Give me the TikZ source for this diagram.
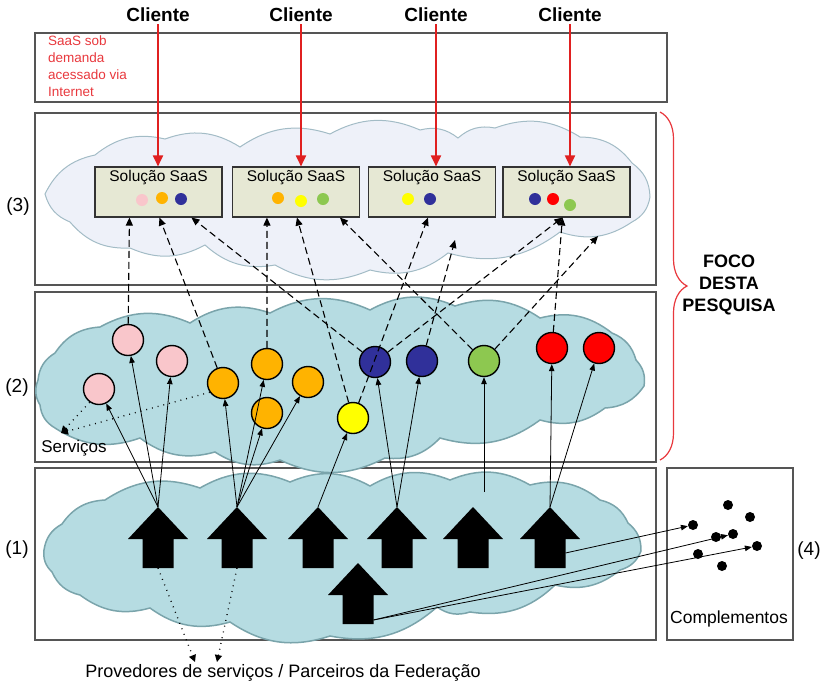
\documentclass[tikz,border=0pt]{standalone}
\usepackage{fontspec}
\setmainfont{Liberation Sans}
\usetikzlibrary{arrows.meta,decorations.pathreplacing}

\definecolor{framegray}{HTML}{555555}
\definecolor{lavfill}{HTML}{EEF1F9}
\definecolor{lavedge}{HTML}{A3BCC6}
\definecolor{tealfill}{HTML}{B6DCE2}
\definecolor{tealedge}{HTML}{7AA4AB}
\definecolor{solfill}{HTML}{E6E8D4}
\definecolor{spink}{HTML}{F9C6CB}
\definecolor{sorange}{HTML}{FFB300}
\definecolor{syellow}{HTML}{FFFF00}
\definecolor{sblue}{HTML}{30309A}
\definecolor{sgreen}{HTML}{8DC850}
\definecolor{sred}{HTML}{FF0000}
\definecolor{clientred}{HTML}{E02020}
\definecolor{notered}{HTML}{E8383D}

\begin{document}
\begin{tikzpicture}[x=1pt,y=-1pt,
  layerbox/.style={draw=framegray, line width=1.3pt},
  lobe/.style={bend left=26},
  solbox/.style={rectangle, draw=black!80, fill=solfill, line width=1.1pt,
    minimum width=127pt, minimum height=50pt, inner sep=0pt},
  soltext/.style={font=\fontsize{15.5}{18}\selectfont, inner sep=0pt},
  minidot/.style={circle, minimum size=12pt, inner sep=0pt},
  svc/.style={circle, draw=black, line width=1.4pt, minimum size=31pt, inner sep=0pt},
  compdot/.style={circle, fill=black, minimum size=10pt, inner sep=0pt},
  clienttext/.style={font=\fontsize{19}{22}\selectfont\bfseries, inner sep=2pt},
  clientarrow/.style={draw=clientred, line width=1.8pt,
    -{Triangle[length=11pt,width=10pt]}},
  feed/.style={draw=black, line width=1.1pt, dash pattern=on 7pt off 4pt,
    -{Triangle[length=8pt,width=7pt]}},
  supply/.style={draw=black, line width=0.8pt, -{Triangle[length=7pt,width=5.5pt]}},
  hint/.style={draw=black, line width=1.3pt, dash pattern=on 0.9pt off 5pt,
    -{Triangle[length=7pt,width=7pt]}},
  layerlabel/.style={font=\fontsize{19}{22}\selectfont, inner sep=0pt},
  provider/.pic={
    \fill[black] (0,0) -- (30,32) -- (15.5,32) -- (15.5,61) -- (-15.5,61)
      -- (-15.5,32) -- (-30,32) -- cycle;
    \coordinate (-tip) at (0,0);
    \coordinate (-foot) at (0,61);
    \coordinate (-side) at (15.5,46);
    \coordinate (-low) at (15.5,57);
  }]
\useasboundingbox (0,0) rectangle (823,683);

% ---- frames ----
\draw[layerbox] (35,33) rectangle (667,102);
\draw[layerbox] (35,113) rectangle (656,285);
\draw[layerbox] (35,292) rectangle (656,462);
\draw[layerbox] (35,468) rectangle (656,640);
\draw[layerbox] (667,468) rectangle (793,640);

% ---- clouds ----
\filldraw[fill=lavfill, draw=lavedge, line width=1pt]
  (45,194) to[lobe] (95,155) to[lobe] (165,139) to[lobe] (240,147)
  to[lobe] (330,134) to[lobe] (420,130) to[lobe] (458,138) to[lobe] (495,128)
  to[lobe] (580,137) to[lobe] (632,163) to[lobe] (650,197) to[lobe] (632,222)
  to[lobe] (560,232) to[lobe] (448,253) to[lobe] (370,270) to[lobe] (275,265)
  to[lobe] (205,245) to[lobe] (130,248) to[lobe] (70,222) to[lobe] (45,194) -- cycle;

\filldraw[fill=tealfill, draw=tealedge, line width=1.5pt]
  (38,380) to[lobe] (55,353) to[lobe] (100,327) to[lobe] (190,323)
  to[lobe] (270,313) to[lobe] (370,310) to[lobe] (455,306) to[lobe] (540,318)
  to[lobe] (612,333) to[lobe] (636,360) to[lobe] (644,386) to[lobe] (605,408)
  to[lobe] (540,420) to[lobe] (440,438) to[lobe] (385,458) to[lobe] (280,460)
  to[lobe] (215,452) to[lobe] (140,438) to[lobe] (55,428) to[lobe] (40,405)
  to[lobe] (38,380) -- cycle;

\filldraw[fill=tealfill, draw=tealedge, line width=1.5pt]
  (44,550) to[lobe] (62,524) to[lobe] (105,500) to[lobe] (200,488)
  to[lobe] (290,482) to[lobe] (370,486) to[lobe] (450,480) to[lobe] (530,485)
  to[lobe] (600,500) to[lobe] (628,523) to[lobe] (641,551) to[lobe] (620,570)
  to[lobe] (555,585) to[lobe] (470,612) to[lobe] (437,607) to[lobe] (330,636)
  to[lobe] (230,622) to[lobe] (150,608) to[lobe] (80,595) to[lobe] (52,572)
  to[lobe] (44,550) -- cycle;

% ---- texts ----
\node[anchor=north west, align=left, inner sep=0pt, text=notered,
  font=\fontsize{13.5}{16.8}\selectfont] (saasnote) at (48,36)
  {SaaS sob\\demanda\\acessado via\\Internet};
\node[clienttext] (c1) at (158,15) {Cliente};
\node[clienttext] (c2) at (301,15) {Cliente};
\node[clienttext] (c3) at (436,15) {Cliente};
\node[clienttext] (c4) at (570,15) {Cliente};
\node[layerlabel] (lab3) at (18,207) {(3)};
\node[layerlabel] (lab2) at (17,388) {(2)};
\node[layerlabel] (lab1) at (17,550) {(1)};
\node[layerlabel] (lab4) at (809,551) {(4)};
\node[font=\fontsize{18}{22}\selectfont\bfseries, align=center, inner sep=0pt]
  (focus) at (729,285) {FOCO\\DESTA\\PESQUISA};
\node[font=\fontsize{17}{20}\selectfont, inner sep=0pt] (servicos) at (74,448) {Serviços};
\node[font=\fontsize{17.5}{20}\selectfont, inner sep=0pt] (compl) at (729,619) {Complementos};
\node[font=\fontsize{18}{21}\selectfont, inner sep=0pt] (prov) at (283,673)
  {Provedores de serviços / Parceiros da Federação};

% ---- brace ----
\draw[notered, line width=1.2pt, decorate, decoration={brace, amplitude=27pt}]
  (660,112) -- (660,460);

% ---- SaaS solutions ----
\node[solbox] (s1) at (158.5,192) {};
\node[solbox] (s2) at (296,192) {};
\node[solbox] (s3) at (432,192) {};
\node[solbox] (s4) at (566.5,192) {};
\foreach \s in {s1,s2,s3,s4}
  \node[soltext] (\s t) at ([yshift=-11pt]\s.north) {Solução SaaS};

\node[minidot, fill=spink] (d11) at (142,200) {};
\node[minidot, fill=sorange] (d12) at (162,198) {};
\node[minidot, fill=sblue] (d13) at (181,199) {};
\node[minidot, fill=sorange] (d21) at (278,198) {};
\node[minidot, fill=syellow] (d22) at (301,201) {};
\node[minidot, fill=sgreen] (d23) at (323,199) {};
\node[minidot, fill=syellow] (d31) at (408,199) {};
\node[minidot, fill=sblue] (d32) at (430,199) {};
\node[minidot, fill=sblue] (d41) at (535,199) {};
\node[minidot, fill=sred] (d42) at (553,199) {};
\node[minidot, fill=sgreen] (d43) at (570,205) {};

% ---- clients ----
\draw[clientarrow] (c1) -- (c1 |- s1.north);
\draw[clientarrow] (c2) -- (c2 |- s2.north);
\draw[clientarrow] (c3) -- (c3 |- s3.north);
\draw[clientarrow] (c4) -- (c4 |- s4.north);

% ---- providers ----
\pic (p1) at (158,507) {provider};
\pic (p2) at (237,507) {provider};
\pic (p3) at (318,507) {provider};
\pic (p4) at (397,507) {provider};
\pic (p5) at (473,507) {provider};
\pic (p6) at (550,507) {provider};
\pic (p7) at (358,563) {provider};

% ---- services ----
\node[svc, fill=spink] (pk1) at (128,340) {};
\node[svc, fill=spink] (pk2) at (172,361) {};
\node[svc, fill=spink] (pk3) at (99,389) {};
\node[svc, fill=sorange] (or1) at (223,383) {};
\node[svc, fill=sorange] (or2) at (267,364) {};
\node[svc, fill=sorange] (or3) at (308,382) {};
\node[svc, fill=sorange] (or4) at (267,413) {};
\node[svc, fill=syellow] (ye1) at (353,418) {};
\node[svc, fill=sblue] (bl1) at (375,362) {};
\node[svc, fill=sblue] (bl2) at (422,361) {};
\node[svc, fill=sgreen] (gr1) at (484,361) {};
\node[svc, fill=sred] (rd1) at (552,348) {};
\node[svc, fill=sred] (rd2) at (599,348) {};

% ---- services feeding the SaaS solutions ----
\coordinate (free1) at (455,240);
\coordinate (free2) at (598,236);
\draw[feed] (pk1) -- ([xshift=35pt]s1.south west);
\draw[feed] (or1) -- ([xshift=65pt]s1.south west);
\draw[feed] (bl1) -- ([xshift=97pt]s1.south west);
\draw[feed] (or2) -- ([xshift=35pt]s2.south west);
\draw[feed] (ye1) -- ([xshift=65pt]s2.south west);
\draw[feed] (gr1) -- ([xshift=108pt]s2.south west);
\draw[feed] (ye1) -- ([xshift=60pt]s3.south west);
\draw[feed] (bl2) -- (free1);
\draw[feed] (bl1) -- ([xshift=60pt]s4.south west);
\draw[feed] (rd1) -- ([xshift=60pt]s4.south west);
\draw[feed] (gr1) -- (free2);

% ---- providers supplying services ----
\coordinate (p5up) at (484,492);
\draw[supply] (p1-tip) -- (pk1);
\draw[supply] (p1-tip) -- (pk2);
\draw[supply] (p1-tip) -- (pk3);
\draw[supply] (p2-tip) -- (or1);
\draw[supply] (p2-tip) -- (or2);
\draw[supply] (p2-tip) -- (or3);
\draw[supply] (p2-tip) -- (or4);
\draw[supply] (p3-tip) -- (ye1);
\draw[supply] (p4-tip) -- (bl1);
\draw[supply] (p4-tip) -- (bl2);
\draw[supply] (p5up) -- (gr1);
\draw[supply] (p6-tip) -- (rd1);
\draw[supply] (p6-tip) -- (rd2);

% ---- complements ----
\node[compdot] (k1) at (693,525) {};
\node[compdot] (k2) at (728,505) {};
\node[compdot] (k3) at (750,517) {};
\node[compdot] (k4) at (716,537) {};
\node[compdot] (k5) at (733,534) {};
\node[compdot] (k6) at (757,546) {};
\node[compdot] (k7) at (698,554) {};
\node[compdot] (k8) at (722,566) {};
\draw[supply] (p6-side) -- (k1);
\draw[supply] (p7-low) -- (k5);
\draw[supply] (p7-low) -- (k6);

% ---- dotted hints ----
\coordinate (srvtip) at (61,433);
\draw[hint] (pk3.235) -- (srvtip);
\draw[hint] (or1.215) -- (srvtip);
\coordinate (provtipA) at (195,662);
\coordinate (provtipB) at (217,662);
\draw[hint] (p1-foot) -- (provtipA);
\draw[hint] (p2-foot) -- (provtipB);

\end{tikzpicture}
\end{document}
